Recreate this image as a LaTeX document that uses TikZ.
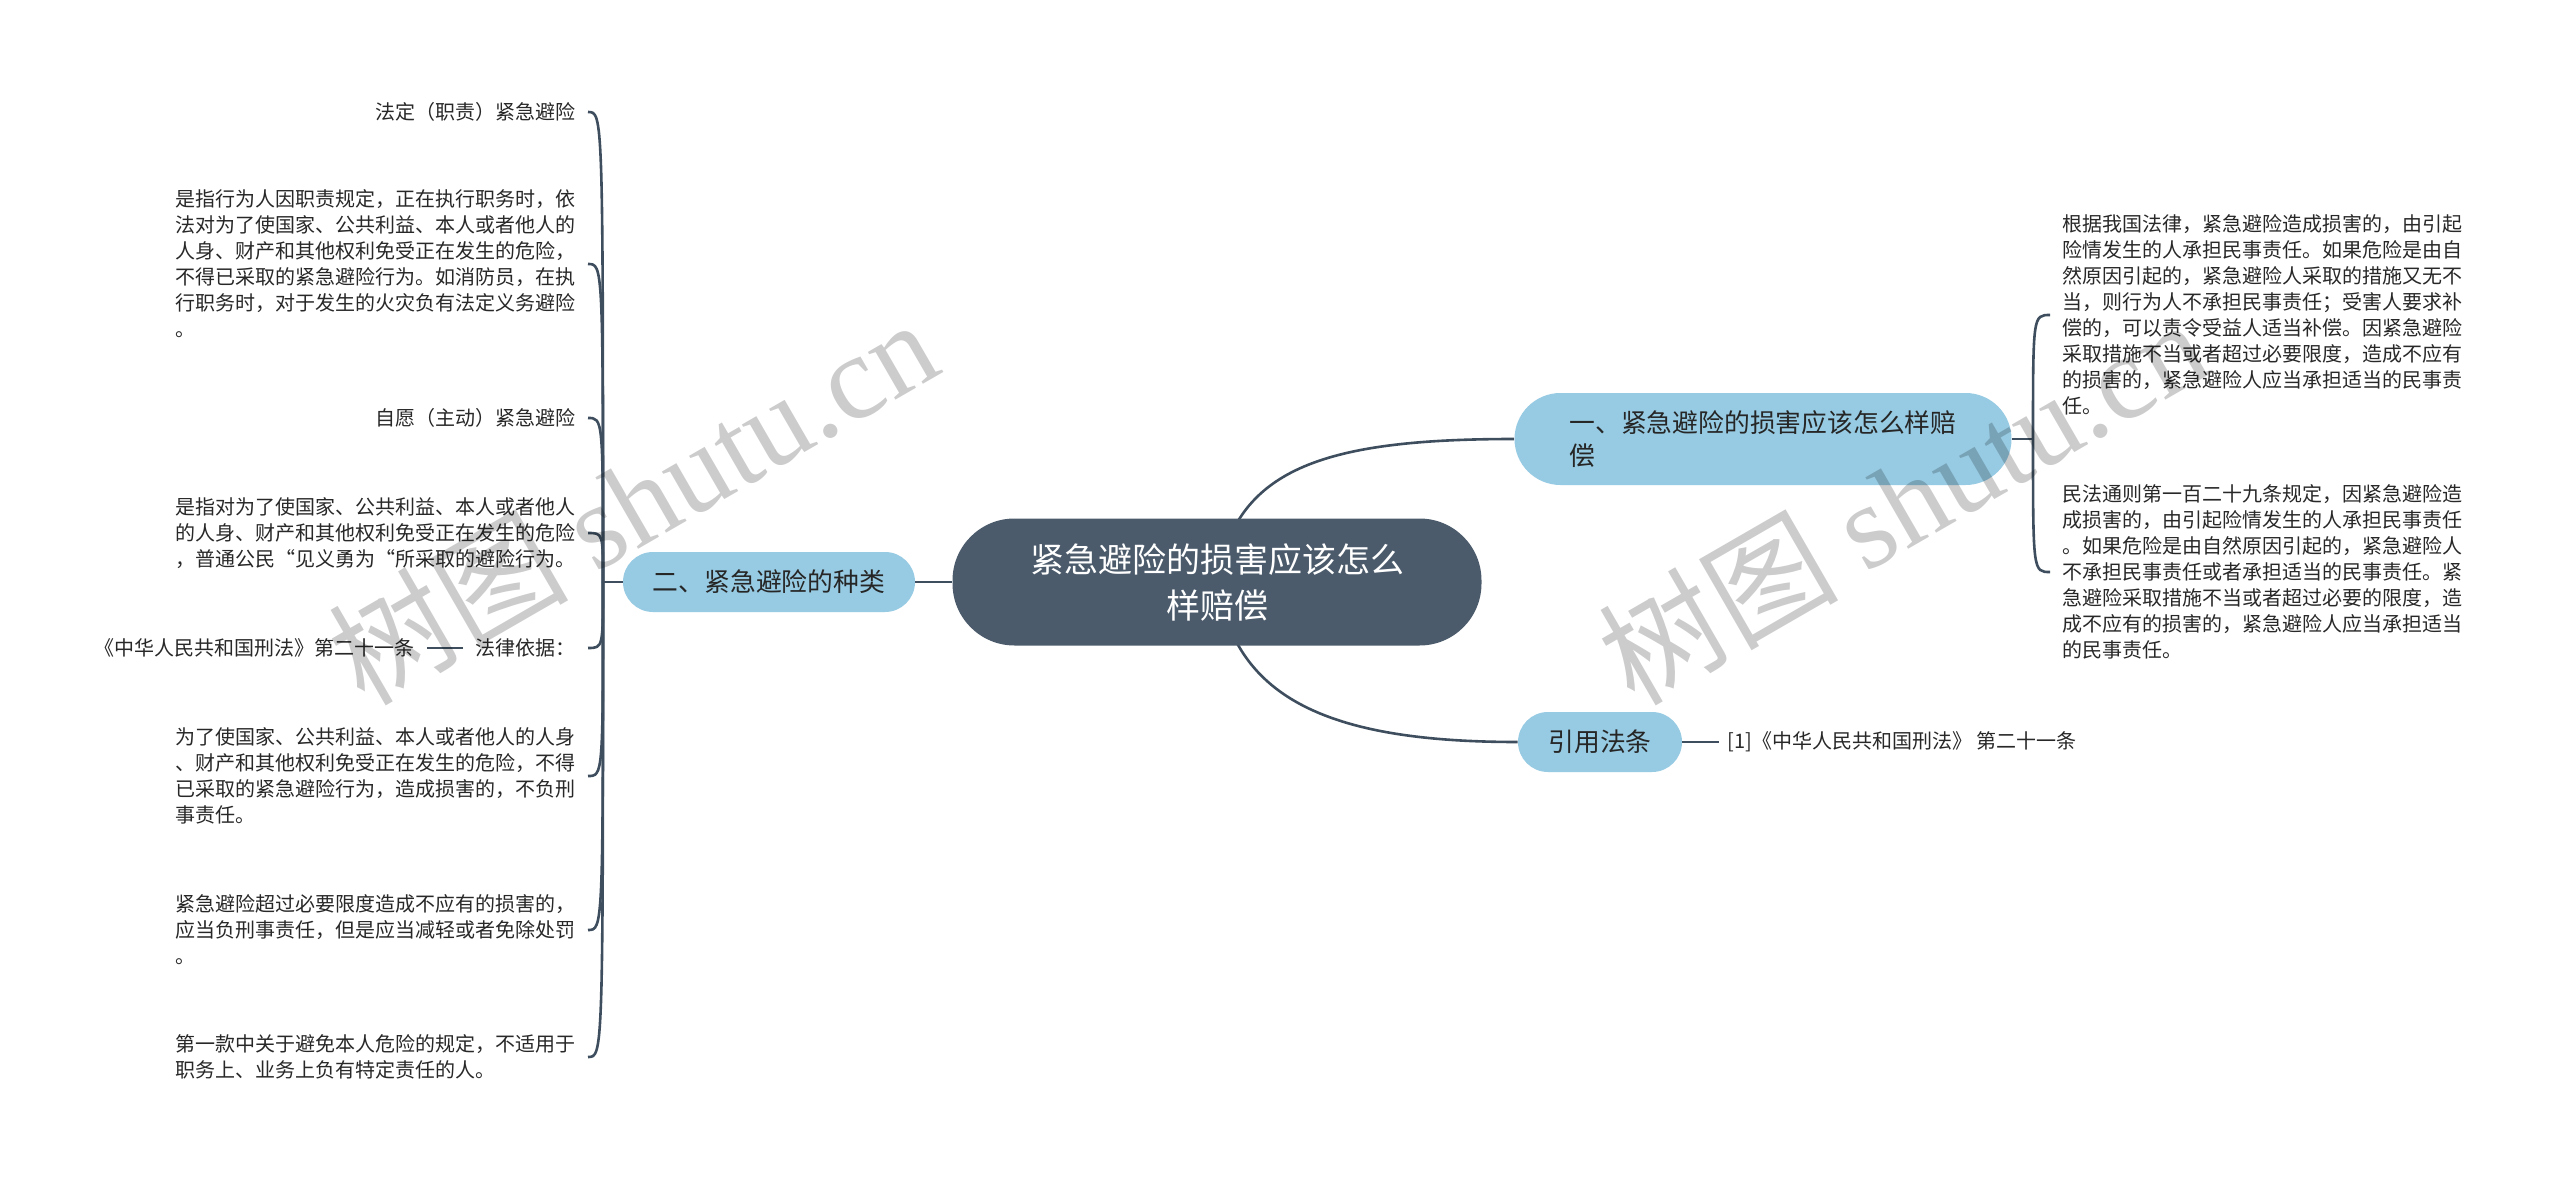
\documentclass[tikz,border=0pt]{standalone}
\usepackage{fontspec}
\setmainfont{Noto Sans CJK SC}
\newfontfamily\wmfont{Liberation Serif}
\usetikzlibrary{backgrounds}
\definecolor{rootfill}{RGB}{75,91,107}
\definecolor{topicfill}{RGB}{151,203,227}
\definecolor{linkcol}{RGB}{62,78,94}
\definecolor{leaftext}{RGB}{40,40,40}
\begin{document}
\begin{tikzpicture}[x=0.5pt,y=0.5pt,yscale=-1,
    rootbox/.style={fill=rootfill, rounded corners=31pt, text=white, align=center,
        minimum width=264.5pt, minimum height=63.5pt, font=\fontsize{17}{23}\selectfont},
    topicbox/.style={fill=topicfill, text=black!85, rounded corners=15pt,
        minimum height=30pt, font=\fontsize{12.9}{16.5}\selectfont},
    leafl/.style={anchor=east, align=left, inner ysep=0pt, inner xsep=6pt,
        text=leaftext, font=\fontsize{10}{13}\selectfont},
    leafr/.style={leafl, anchor=west},
    link/.style={draw=linkcol, line width=1.3pt},
    watermark/.style={text=black, opacity=0.2, rotate=30, inner sep=0pt,
        font=\fontsize{60}{60}\selectfont}]
    \useasboundingbox (0,0) rectangle (2560,1177);

    %Shape: Rounded Rectangle [root]
    \node[rootbox] (root) at (1217,582) {紧急避险的损害应该怎么\\样赔偿};
    %Shape: Rounded Rectangle [topics]
    \node[topicbox, minimum width=146pt] (kinds) at (769,582) {二、紧急避险的种类};
    \node[topicbox, rounded corners=23pt, minimum width=248.5pt, minimum height=46pt, align=left] (damage) at (1763,439) {一、紧急避险的损害应该怎么样赔\\偿};
    \node[topicbox, minimum width=82pt] (law) at (1600,742) {引用法条};

    % Text Node
    \node[leafr] (civil) at (2050,315) {根据我国法律，紧急避险造成损害的，由引起\\险情发生的人承担民事责任。如果危险是由自\\然原因引起的，紧急避险人采取的措施又无不\\当，则行为人不承担民事责任；受害人要求补\\偿的，可以责令受益人适当补偿。因紧急避险\\采取措施不当或者超过必要限度，造成不应有\\的损害的，紧急避险人应当承担适当的民事责\\任。};
    % Text Node
    \node[leafr] (gpcl) at (2050,572) {民法通则第一百二十九条规定，因紧急避险造\\成损害的，由引起险情发生的人承担民事责任\\。如果危险是由自然原因引起的，紧急避险人\\不承担民事责任或者承担适当的民事责任。紧\\急避险采取措施不当或者超过必要的限度，造\\成不应有的损害的，紧急避险人应当承担适当\\的民事责任。};
    % Text Node
    \node[leafr, inner xsep=4pt] (cite) at (1719,742) {[1]《中华人民共和国刑法》 第二十一条};

    % Text Node
    \node[leafl] (duty) at (588,112) {法定（职责）紧急避险};
    % Text Node
    \node[leafl] (dutydef) at (588,264) {是指行为人因职责规定，正在执行职务时，依\\法对为了使国家、公共利益、本人或者他人的\\人身、财产和其他权利免受正在发生的危险，\\不得已采取的紧急避险行为。如消防员，在执\\行职务时，对于发生的火灾负有法定义务避险\\。};
    % Text Node
    \node[leafl] (volun) at (588,418) {自愿（主动）紧急避险};
    % Text Node
    \node[leafl] (voldef) at (588,533) {是指对为了使国家、公共利益、本人或者他人\\的人身、财产和其他权利免受正在发生的危险\\，普通公民“见义勇为“所采取的避险行为。};
    % Text Node
    \node[leafl] (basis) at (588,648) {法律依据：};
    % Text Node
    \node[leafl] (basisart) at (427,648) {《中华人民共和国刑法》第二十一条};
    % Text Node
    \node[leafl] (art21) at (588,776) {为了使国家、公共利益、本人或者他人的人身\\、财产和其他权利免受正在发生的危险，不得\\已采取的紧急避险行为，造成损害的，不负刑\\事责任。};
    % Text Node
    \node[leafl] (excess) at (588,930) {紧急避险超过必要限度造成不应有的损害的，\\应当负刑事责任，但是应当减轻或者免除处罚\\。};
    % Text Node
    \node[leafl] (special) at (588,1057) {第一款中关于避免本人危险的规定，不适用于\\职务上、业务上负有特定责任的人。};

    %Curve Lines [root to topics]
    \begin{scope}[on background layer]
        \fill[white] (0,0) rectangle (2560,1177);
        \draw[link] (root.center) .. controls (1235,470) and (1320,439) .. (damage.west);
        \draw[link] (root.center) .. controls (1235,694) and (1320,742) .. (law.west);
    \end{scope}
    %Straight Lines
    \draw[link] (root.west) -- (kinds.east);
    \draw[link] (law.east) -- (cite.west);
    \draw[link] (basis.west) -- (basisart.east);

    %Curve Lines [left bracket]
    \coordinate (lspine) at (603,582);
    \draw[link] (kinds.west) -- (lspine);
    \draw[link] (lspine) .. controls (lspine |- duty.east) .. (duty.east);
    \draw[link] (lspine) .. controls (lspine |- dutydef.east) .. (dutydef.east);
    \draw[link] (lspine) .. controls (lspine |- volun.east) .. (volun.east);
    \draw[link] (lspine) .. controls (lspine |- voldef.east) .. (voldef.east);
    \draw[link] (lspine) .. controls (lspine |- basis.east) .. (basis.east);
    \draw[link] (lspine) .. controls (lspine |- art21.east) .. (art21.east);
    \draw[link] (lspine) .. controls (lspine |- excess.east) .. (excess.east);
    \draw[link] (lspine) .. controls (lspine |- special.east) .. (special.east);

    %Curve Lines [right bracket]
    \coordinate (rspine) at (2033,439);
    \draw[link] (damage.east) -- (rspine);
    \draw[link] (rspine) .. controls (rspine |- civil.west) .. (civil.west);
    \draw[link] (rspine) .. controls (rspine |- gpcl.west) .. (gpcl.west);

    % Watermark
    \node[watermark] (wmleft) at (632,500) {树图 {\wmfont shutu.cn}};
    \node[watermark] (wmright) at (1902,500) {树图 {\wmfont shutu.cn}};
\end{tikzpicture}
\end{document}
